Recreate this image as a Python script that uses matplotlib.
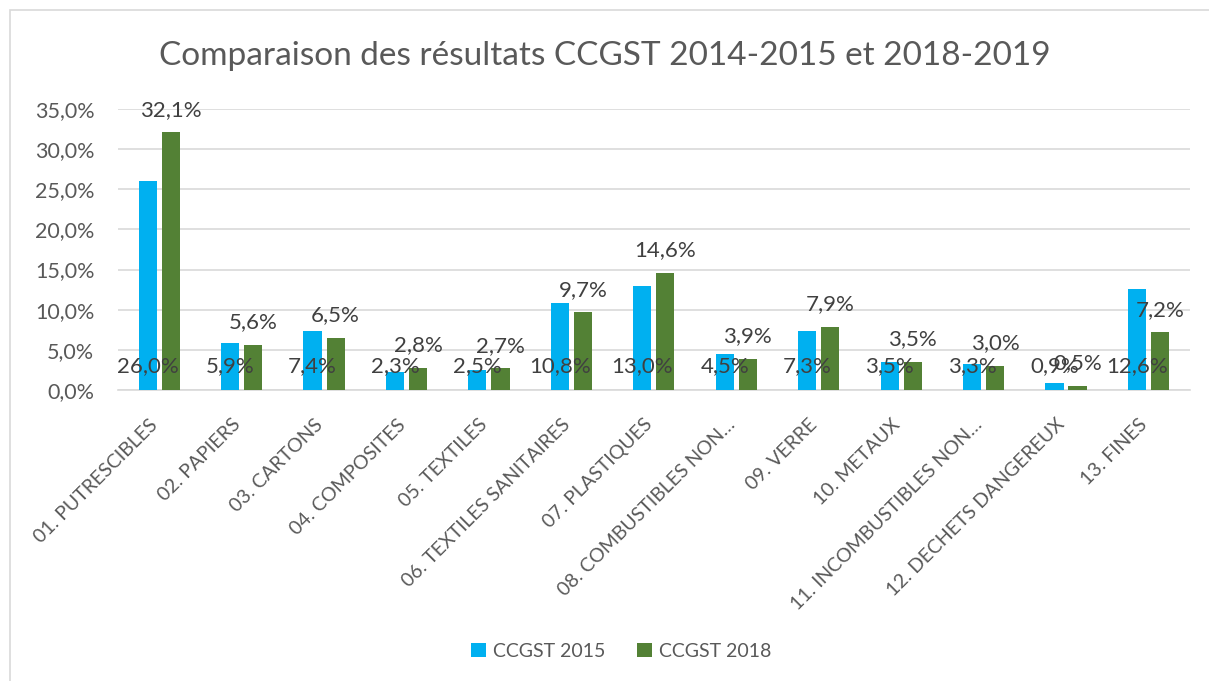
import numpy as np
import matplotlib
matplotlib.use("Agg")
import matplotlib.pyplot as plt
import matplotlib.transforms as mtransforms
from matplotlib.ticker import FuncFormatter
from matplotlib.patches import Rectangle

plt.rcParams['font.family'] = ['Lato', 'DejaVu Sans']

categories = ["01. PUTRESCIBLES", "02. PAPIERS", "03. CARTONS", "04. COMPOSITES",
              "05. TEXTILES", "06. TEXTILES SANITAIRES", "07. PLASTIQUES",
              "08. COMBUSTIBLES NON\u2026", "09. VERRE", "10. METAUX",
              "11. INCOMBUSTIBLES NON\u2026", "12. DECHETS DANGEREUX", "13. FINES"]
ccgst_2015 = [26.0, 5.9, 7.4, 2.3, 2.5, 10.8, 13.0, 4.5, 7.3, 3.5, 3.3, 0.9, 12.6]
ccgst_2018 = [32.1, 5.6, 6.5, 2.8, 2.7, 9.7, 14.6, 3.9, 7.9, 3.5, 3.0, 0.5, 7.2]
series_names = ["CCGST 2015", "CCGST 2018"]

blue = "#00B0F0"
green = "#538135"
txt = "#595959"

def fr(v):
    return f"{v:.1f}%".replace(".", ",")

fig = plt.figure(figsize=(12.09, 6.81), dpi=100)
ax = fig.add_axes([0.0976, 0.4273, 0.8864, 0.4127])

x = np.arange(len(categories))
w = 0.22
off = 0.14
v15 = np.array(ccgst_2015) / 100
v18 = np.array(ccgst_2018) / 100
b1 = ax.bar(x - off, v15, w, color=blue, label=series_names[0], zorder=3)
b2 = ax.bar(x + off, v18, w, color=green, label=series_names[1], zorder=3)

# 2015 labels at the base of the bars, 2018 labels above
for xi, v in zip(x, ccgst_2015):
    ax.text(xi - off, 0.03, fr(v), ha='center', va='center', fontsize=16, color="#404040", zorder=4)
for xi, v in zip(x, ccgst_2018):
    ax.annotate(fr(v), (xi + off, v / 100), xytext=(0, 9), textcoords='offset points',
                ha='center', va='bottom', fontsize=16, color="#404040", zorder=4)

ax.set_xlim(-0.5, len(categories) - 0.5)
ax.set_ylim(0, 0.35)
ax.set_yticks(np.arange(0, 0.351, 0.05))
ax.yaxis.set_major_formatter(FuncFormatter(lambda v, p: fr(v * 100)))
ax.grid(axis='y', color="#D9D9D9", linewidth=1.2, zorder=0)
for s in ['top', 'right', 'left']:
    ax.spines[s].set_visible(False)
ax.spines['bottom'].set_color("#D9D9D9")
ax.spines['bottom'].set_linewidth(1.2)
ax.tick_params(axis='both', length=0, colors=txt)
ax.tick_params(axis='y', labelsize=15.5, pad=17)
ax.tick_params(axis='x', labelsize=14)
ax.set_xticks(x)
ax.set_xticklabels(categories, rotation=45, ha='right', rotation_mode='anchor')
shift = mtransforms.ScaledTranslation(-10 / 100, -21 / 100, fig.dpi_scale_trans)
for lab in ax.get_xticklabels():
    lab.set_transform(lab.get_transform() + shift)

fig.suptitle("Comparaison des résultats CCGST 2014-2015 et 2018-2019", y=0.94,
             fontsize=24, color=txt)

fig.legend(handles=[b1, b2], labels=series_names, loc='center', bbox_to_anchor=(0.514, 0.044),
           ncol=2, frameon=False, fontsize=14, labelcolor=txt, handlelength=0.75,
           handleheight=0.75, handletextpad=0.4, columnspacing=1.6)

fig.patches.append(Rectangle((10 / 1209, -0.1), 1.1, 1 - 10 / 681 + 0.1,
                             transform=fig.transFigure, fill=False, edgecolor="#D9D9D9",
                             linewidth=1.2))

fig.savefig("out.png", dpi=100)
